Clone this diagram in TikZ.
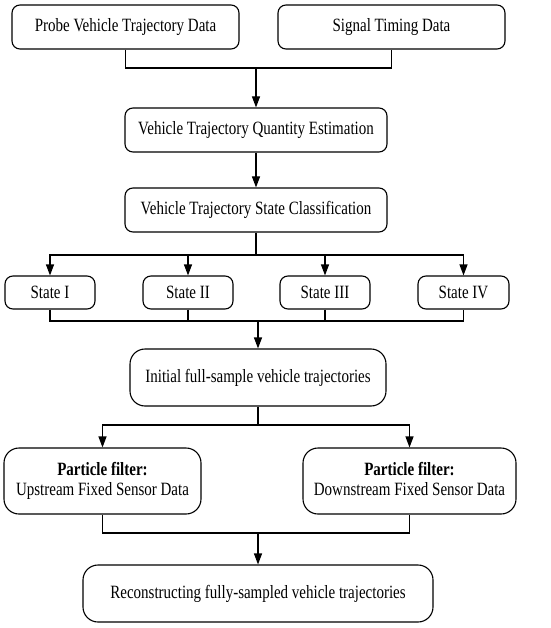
\documentclass[tikz,border=0pt]{standalone}
\usepackage{graphicx}
\usepackage{fontspec}
\setmainfont{Liberation Serif}
\usetikzlibrary{arrows.meta}
\newcommand\vs[1]{\scalebox{1}[1.25]{#1}}
\newcommand\twol[2]{\vs{\begin{tabular}{@{}c@{}}#1\\#2\end{tabular}}}
\tikzset{
  box/.style={draw, rounded corners=8pt, line width=1.1pt, align=center, inner sep=0pt,
    font=\fontsize{15}{16}\selectfont},
  bigbox/.style={box, rounded corners=15pt},
  ln/.style={line width=1.1pt},
  arr/.style={ln, -{Triangle[length=11pt,width=8pt]}}
}
\begin{document}
\begin{tikzpicture}[x=1pt,y=-1pt]
\useasboundingbox (0,0) rectangle (550,628);
\node[box, minimum width=227pt, minimum height=44pt] (probe) at (125.5,27) {\vs{Probe Vehicle Trajectory Data}};
\node[box, minimum width=227pt, minimum height=44pt] (signal) at (391.5,27) {\vs{Signal Timing Data}};
\node[box, minimum width=262pt, minimum height=44pt] (quant) at (256,130) {\vs{Vehicle Trajectory Quantity Estimation}};
\node[box, minimum width=262pt, minimum height=44pt] (class) at (256,210) {\vs{Vehicle Trajectory State Classification}};
\node[box, minimum width=90pt, minimum height=33pt] (s1) at (50,292.5) {\vs{State I}};
\node[box, minimum width=90pt, minimum height=33pt] (s2) at (188,292.5) {\vs{State II}};
\node[box, minimum width=90pt, minimum height=33pt] (s3) at (325,292.5) {\vs{State III}};
\node[box, minimum width=91pt, minimum height=33pt] (s4) at (463.5,292.5) {\vs{State IV}};
\node[bigbox, minimum width=256pt, minimum height=57pt] (init) at (258,377.5) {\vs{Initial full-sample vehicle trajectories}};
\node[bigbox, minimum width=197pt, minimum height=66pt] (pl) at (102.5,481) {\twol{\textbf{Particle filter:}}{Upstream Fixed Sensor Data}};
\node[bigbox, minimum width=213pt, minimum height=66pt] (pr) at (409.5,481) {\twol{\textbf{Particle filter:}}{Downstream Fixed Sensor Data}};
\node[bigbox, minimum width=350pt, minimum height=57pt] (final) at (258,593.5) {\vs{Reconstructing fully-sampled vehicle trajectories}};
\coordinate (j1) at (256,68);
\coordinate (j2) at (256,255);
\coordinate (j3) at (258,321);
\coordinate (j4) at (258,425);
\coordinate (j5) at (258,533);
\draw[ln] (probe.south) |- (j1) -| (signal.south);
\draw[arr] (j1) -- (quant.north);
\draw[arr] (quant.south) -- (class.north);
\draw[ln] (class.south) -- (j2);
\draw[arr] (j2) -| (s1.north);
\draw[arr] (j2) -| (s2.north);
\draw[arr] (j2) -| (s3.north);
\draw[arr] (j2) -| (s4.north);
\draw[ln] (s1.south) |- (j3) -| (s4.south);
\draw[ln] (s2.south) |- (j3);
\draw[ln] (s3.south) |- (j3);
\draw[arr] (j3) -- (init.north);
\draw[ln] (init.south) -- (j4);
\draw[arr] (j4) -| (pl.north);
\draw[arr] (j4) -| (pr.north);
\draw[ln] (pl.south) |- (j5) -| (pr.south);
\draw[arr] (j5) -- (final.north);
\end{tikzpicture}
\end{document}
